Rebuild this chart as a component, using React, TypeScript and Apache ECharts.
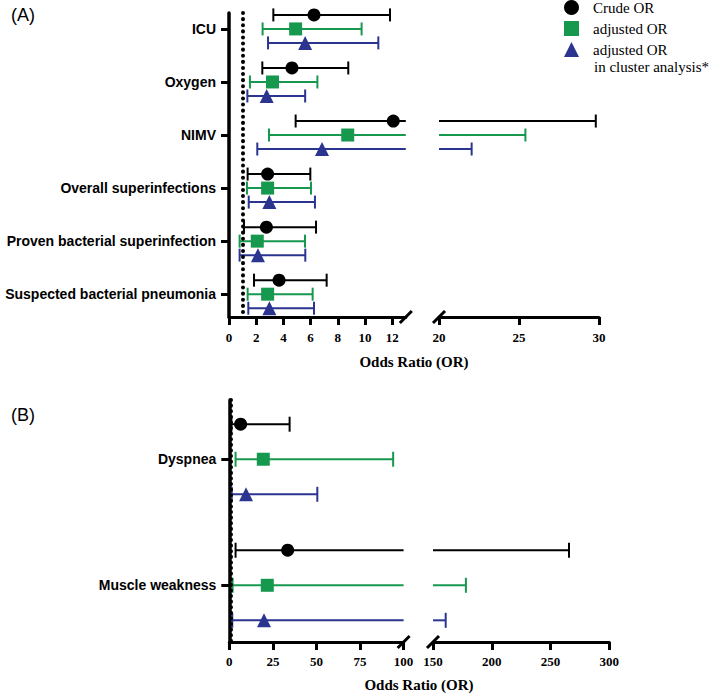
import React, { useEffect, useRef } from "react";
import * as echarts from "echarts";

// ---------- Panel A data ----------
const catsA = [
  "ICU",
  "Oxygen",
  "NIMV",
  "Overall superinfections",
  "Proven bacterial superinfection",
  "Suspected bacterial pneumonia",
];
const crudeA_or = [6.25, 4.63, 12.08, 2.84, 2.75, 3.68];
const crudeA_lo = [3.26, 2.45, 4.9, 1.37, 1.1, 1.84];
const crudeA_hi = [11.84, 8.77, 29.8, 5.98, 6.4, 7.18];
const adjA_or = [4.9, 3.2, 8.73, 2.84, 2.08, 2.84];
const adjA_lo = [2.47, 1.54, 2.94, 1.32, 0.78, 1.37];
const adjA_hi = [9.75, 6.5, 25.4, 6.03, 5.59, 6.15];
const cluA_or = [5.6, 2.77, 6.84, 2.97, 2.13, 2.97];
const cluA_lo = [2.87, 1.35, 2.08, 1.45, 0.78, 1.42];
const cluA_hi = [10.98, 5.6, 22.04, 6.32, 5.61, 6.25];
const ticksA1 = [0, 2, 4, 6, 8, 10, 12];
const ticksA2 = [20, 25, 30];

// ---------- Panel B data ----------
const catsB = ["Dyspnea", "Muscle weakness"];
const crudeB_or = [6.5, 33.5];
const crudeB_lo = [1.2, 3.6];
const crudeB_hi = [34.6, 265.7];
const adjB_or = [19.5, 21.8];
const adjB_lo = [3.6, 1.9];
const adjB_hi = [94, 178];
const cluB_or = [9.6, 19.9];
const cluB_lo = [1.4, 1.7];
const cluB_hi = [50.5, 160.8];
const ticksB1 = [0, 25, 50, 75, 100];
const ticksB2 = [150, 200, 250, 300];

const seriesNames = ["Crude OR", "adjusted OR", "adjusted OR in cluster analysis*"];
const colors = ["#000000", "#17984f", "#2b3590"];
const symbols = ["circle", "rect", "triangle"];

export default function App() {
  const ref = useRef<HTMLDivElement>(null);
  useEffect(() => {
    if (!ref.current) return;
    const chart = echarts.init(ref.current, null, { renderer: "svg" });

    const yA = { min: -0.3, max: 5.43, off: 0.264 };
    const yB = { min: -0.47, max: 1.45, off: 0.278 };
    const segA = [
      [0, 13],
      [20, 30],
    ];
    const segB = [
      [0, 100],
      [150, 300],
    ];

    const serifLabel = {
      fontFamily: "Liberation Serif",
      fontWeight: "bold" as const,
      fontSize: 13,
      color: "#000",
    };

    const makeX = (gi: number, seg: number[], ticks: number[], margin: number) => ({
      type: "value",
      gridIndex: gi,
      position: "bottom",
      min: seg[0],
      max: seg[1],
      axisLine: { show: true, onZero: false, lineStyle: { color: "#000", width: 3 } },
      axisTick: { show: true, length: 8, lineStyle: { width: 3, color: "#000" }, customValues: ticks },
      axisLabel: { ...serifLabel, margin, customValues: ticks },
      splitLine: { show: false },
    });

    const makeY = (gi: number, yr: any, cats: string[] | null) => ({
      type: "value",
      gridIndex: gi,
      position: "left",
      inverse: true,
      min: yr.min,
      max: yr.max,
      show: !!cats,
      axisLine: { show: true, onZero: false, lineStyle: { color: "#000", width: 3.5 } },
      axisTick: {
        show: true,
        length: 8,
        lineStyle: { width: 3, color: "#000" },
        customValues: cats ? cats.map((_, i) => i) : [],
      },
      axisLabel: {
        show: !!cats,
        margin: 13,
        fontFamily: "Liberation Sans",
        fontWeight: "bold",
        fontSize: 14,
        color: "#000",
        customValues: cats ? cats.map((_, i) => i) : [],
        formatter: (v: number) => (cats ? cats[Math.round(v)] : ""),
      },
      splitLine: { show: false },
    });

    const barRenderer = (xmin: number, xmax: number, capH: number, color: string) =>
      (params: any, api: any) => {
        const lo = api.value(0);
        const hi = api.value(1);
        const y = api.value(2);
        const s = Math.max(lo, xmin);
        const e = Math.min(hi, xmax);
        if (e <= s) return null;
        const p1 = api.coord([s, y]);
        const p2 = api.coord([e, y]);
        const st = { stroke: color, lineWidth: 2 };
        const children: any[] = [
          { type: "line", shape: { x1: p1[0], y1: p1[1], x2: p2[0], y2: p2[1] }, style: st },
        ];
        if (lo >= xmin) {
          children.push({
            type: "line",
            shape: { x1: p1[0], y1: p1[1] - capH / 2, x2: p1[0], y2: p1[1] + capH / 2 },
            style: st,
          });
        }
        if (hi <= xmax) {
          children.push({
            type: "line",
            shape: { x1: p2[0], y1: p2[1] - capH / 2, x2: p2[0], y2: p2[1] + capH / 2 },
            style: st,
          });
        }
        return { type: "group", children };
      };

    const slashRenderer = (params: any, api: any) => {
      const p = api.coord([api.value(0), api.value(1)]);
      return {
        type: "line",
        shape: { x1: p[0] - 6, y1: p[1] + 6, x2: p[0] + 6, y2: p[1] - 6 },
        style: { stroke: "#000", lineWidth: 3 },
      };
    };

    const series: any[] = [];

    const addPanel = (
      gridIdx: number[],
      segs: number[][],
      yr: any,
      capH: number,
      groups: { or: number[]; lo: number[]; hi: number[] }[],
      dotDash: number[]
    ) => {
      groups.forEach((g, k) => {
        const offset = (k - 1) * yr.off;
        gridIdx.forEach((gi, si) => {
          series.push({
            type: "custom",
            xAxisIndex: gi,
            yAxisIndex: gi,
            renderItem: barRenderer(segs[si][0], segs[si][1], capH, colors[k]),
            data: g.lo.map((l, i) => [l, g.hi[i], i + offset]),
            encode: { x: [0, 1], y: 2 },
            clip: false,
            silent: true,
            z: 3,
          });
        });
        series.push({
          type: "scatter",
          name: seriesNames[k],
          xAxisIndex: gridIdx[0],
          yAxisIndex: gridIdx[0],
          symbol: symbols[k],
          symbolSize: k === 2 ? 14 : 13,
          itemStyle: { color: colors[k], opacity: 1 },
          data: g.or.map((v, i) => [v, i + offset]),
          z: 5,
        });
      });
      // reference line at OR = 1
      series.push({
        type: "scatter",
        xAxisIndex: gridIdx[0],
        yAxisIndex: gridIdx[0],
        data: [],
        silent: true,
        markLine: {
          silent: true,
          symbol: "none",
          label: { show: false },
          lineStyle: { color: "#000", width: 4, type: dotDash, cap: "round" },
          data: [{ xAxis: 1 }],
        },
        z: 2,
      });
      // break slashes
      series.push({
        type: "custom",
        xAxisIndex: gridIdx[0],
        yAxisIndex: gridIdx[0],
        renderItem: slashRenderer,
        data: [[segs[0][1], yr.max]],
        clip: false,
        silent: true,
        z: 6,
      });
      series.push({
        type: "custom",
        xAxisIndex: gridIdx[1],
        yAxisIndex: gridIdx[1],
        renderItem: slashRenderer,
        data: [[segs[1][0], yr.max]],
        clip: false,
        silent: true,
        z: 6,
      });
    };

    addPanel(
      [0, 1],
      segA,
      yA,
      13,
      [
        { or: crudeA_or, lo: crudeA_lo, hi: crudeA_hi },
        { or: adjA_or, lo: adjA_lo, hi: adjA_hi },
        { or: cluA_or, lo: cluA_lo, hi: cluA_hi },
      ],
      [0.1, 6]
    );
    addPanel(
      [2, 3],
      segB,
      yB,
      15,
      [
        { or: crudeB_or, lo: crudeB_lo, hi: crudeB_hi },
        { or: adjB_or, lo: adjB_lo, hi: adjB_hi },
        { or: cluB_or, lo: cluB_lo, hi: cluB_hi },
      ],
      [0.1, 5.5]
    );

    const titleStyle = {
      fontFamily: "Liberation Serif",
      fontWeight: "bold",
      fontSize: 15,
      fill: "#000",
      textAlign: "center",
      textVerticalAlign: "middle",
    };

    chart.setOption({
      animation: false,
      backgroundColor: "#fff",
      grid: [
        { left: 229, top: 13, width: 176.8, height: 304, containLabel: false, outerBoundsMode: "none" },
        { left: 439, top: 13, width: 160, height: 304, containLabel: false, outerBoundsMode: "none" },
        { left: 229.3, top: 400, width: 174.3, height: 242, containLabel: false, outerBoundsMode: "none" },
        { left: 433, top: 400, width: 176.3, height: 242, containLabel: false, outerBoundsMode: "none" },
      ],
      xAxis: [
        makeX(0, segA[0], ticksA1, 14),
        makeX(1, segA[1], ticksA2, 14),
        makeX(2, segB[0], ticksB1, 13),
        makeX(3, segB[1], ticksB2, 13),
      ],
      yAxis: [makeY(0, yA, catsA), makeY(1, yA, null), makeY(2, yB, catsB), makeY(3, yB, null)],
      legend: {
        orient: "vertical",
        left: 564,
        top: 0,
        padding: 0,
        itemWidth: 15,
        itemHeight: 15,
        itemGap: 6,
        selectedMode: false,
        data: seriesNames.map((n, i) => ({ name: n, icon: symbols[i] })),
        formatter: (n: string) => (n === seriesNames[2] ? "adjusted OR" : n),
        textStyle: {
          fontFamily: "Liberation Serif",
          fontSize: 15,
          color: "#000",
          padding: [0, 0, 0, 9],
        },
      },
      graphic: [
        {
          type: "text",
          x: 594,
          y: 67,
          style: {
            text: "in cluster analysis*",
            fontFamily: "Liberation Serif",
            fontSize: 15,
            fill: "#000",
            textVerticalAlign: "middle",
          },
        },
        { type: "text", x: 414, y: 362, style: { text: "Odds Ratio (OR)", ...titleStyle } },
        { type: "text", x: 419, y: 685, style: { text: "Odds Ratio (OR)", ...titleStyle } },
        {
          type: "text",
          x: 11,
          y: 15,
          style: { text: "(A)", fontFamily: "Liberation Sans", fontSize: 18, fill: "#000", textVerticalAlign: "middle" },
        },
        {
          type: "text",
          x: 11,
          y: 415,
          style: { text: "(B)", fontFamily: "Liberation Sans", fontSize: 18, fill: "#000", textVerticalAlign: "middle" },
        },
      ],
      series,
    });

    return () => chart.dispose();
  }, []);

  return (
    <div
      ref={ref}
      style={{ position: "absolute", left: 0, top: 0, width: 709, height: 696, background: "#fff" }}
    />
  );
}
